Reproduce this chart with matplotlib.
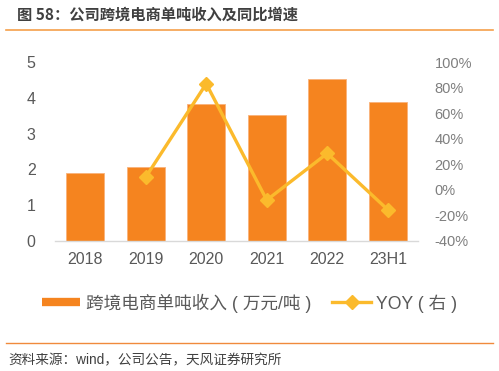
import matplotlib
matplotlib.use("Agg")
import matplotlib.pyplot as plt
from matplotlib.lines import Line2D
from matplotlib.ticker import FuncFormatter

plt.rcParams['font.family'] = ['Liberation Sans', 'Noto Sans CJK SC', 'DejaVu Sans']

categories = ['2018', '2019', '2020', '2021', '2022', '23H1']
revenue = [1.89, 2.08, 3.82, 3.52, 4.53, 3.89]
yoy_x = ['2019', '2020', '2021', '2022', '23H1']
yoy = [10.0, 83.0, -8.0, 28.5, -15.5]

bar_color = '#F5841F'
line_color = '#FBBA2C'
tick_color = '#595959'

fig = plt.figure(figsize=(4.99, 3.71), dpi=100)
ax = fig.add_axes([55/499, 1-241/371, (418-55)/499, (241-62)/371])

x = list(range(len(categories)))
ax.bar(x, revenue, width=0.63, color=bar_color, edgecolor='#F9B27A', linewidth=0.6, zorder=2)
ax.set_xlim(-0.5, len(categories)-0.5)
ax.set_ylim(0, 5)
ax.set_yticks([0, 1, 2, 3, 4, 5])
ax.set_xticks(x)
ax.set_xticklabels(categories)
for s in ['top', 'right', 'left']:
    ax.spines[s].set_visible(False)
ax.spines['bottom'].set_color('#D9D9D9')
ax.spines['bottom'].set_linewidth(1.0)
ax.tick_params(axis='both', length=0, colors=tick_color, labelsize=11.5)
ax.tick_params(axis='y', pad=14)
ax.tick_params(axis='x', pad=8)

ax2 = ax.twinx()
xi = [categories.index(c) for c in yoy_x]
ax2.plot(xi, yoy, color=line_color, lw=2.4, marker='D', markersize=7, zorder=3)
ax2.set_ylim(-40, 100)
ax2.set_yticks([-40, -20, 0, 20, 40, 60, 80, 100])
ax2.yaxis.set_major_formatter(FuncFormatter(lambda v, p: f'{int(v)}%'))
for s in ['top', 'right', 'left', 'bottom']:
    ax2.spines[s].set_visible(False)
ax2.tick_params(axis='y', length=0, colors='#7F7F7F', labelsize=10.5, pad=12)

# title
fig.text(17/499, 1-15/371, '图 58：公司跨境电商单吨收入及同比增速', fontsize=11,
         fontweight='bold', color='#404040', va='center', ha='left',
         family=['Noto Sans CJK SC', 'DejaVu Sans'])
fig.add_artist(Line2D([6/499, 493/499], [1-30/371, 1-30/371], color='#F5A04A', lw=1.2))
fig.add_artist(Line2D([6/499, 493/499], [1-343/371, 1-343/371], color='#F08A3C', lw=1.0))
fig.text(8/499, 1-360/371, '资料来源：wind，公司公告，天风证券研究所', fontsize=9.8,
         color='#404040', va='center', ha='left')

handles = [Line2D([], [], color=bar_color, lw=6, solid_capstyle='butt'),
           Line2D([], [], color=line_color, lw=2.4, marker='D', markersize=7)]
labels = ['跨境电商单吨收入 ( 万元/吨 )', 'YOY ( 右 )']
leg = fig.legend(handles, labels, loc='center', bbox_to_anchor=(0.5, 1-303/371), ncol=2,
                 frameon=False, fontsize=12.7, handlelength=2.2, handletextpad=0.3,
                 columnspacing=1.2, labelcolor='#595959')

fig.savefig('out.png', dpi=100)
